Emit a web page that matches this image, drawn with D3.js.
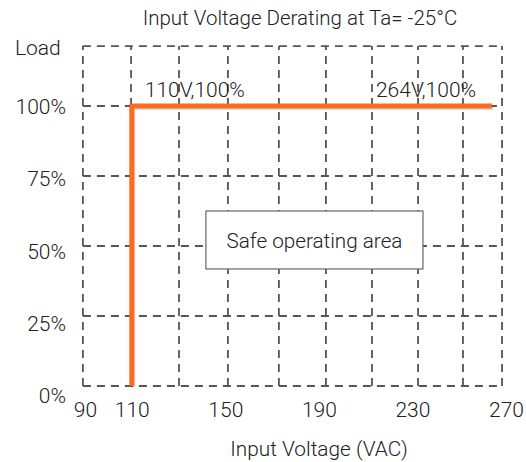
<!DOCTYPE html>
<html>
<head>
<meta charset="utf-8">
<script src="https://cdn.jsdelivr.net/npm/d3@7"></script>
<style>
  body { margin: 0; background: #fff; }
  svg { display: block; font-family: Roboto, "Open Sans", sans-serif; font-weight: 300; }
</style>
</head>
<body>
<div id="chart"></div>
<script>
// Derating curve (input voltage in VAC, load in %)
const curveVoltage = [110, 110, 264];
const curveLoad = [0, 100, 100];

// Axis ticks
const xTicks = [90, 110, 150, 190, 230, 270];
const yTicks = [0, 25, 50, 75, 100];

// Dashed grid (voltages of vertical lines, loads of horizontal lines)
const gridVoltage = [89.1, 109.7, 130.2, 151.1, 172.9, 193, 212.7, 232.4, 251.6, 268.3];
const gridLoad = [0, 25, 50, 75, 100, 121.4];

// Annotations
const pointLabels = [
    { v: 110, load: 100, text: '110V,100%' },
    { v: 264, load: 100, text: '264V,100%' }
];

const width = 526;
const height = 462;
const textColor = '#222';
const gridColor = '#555';
const lineColor = '#ff6b1c';

const svg = d3
    .select('#chart')
    .append('svg')
    .attr('width', width)
    .attr('height', height);

const x = d3.scaleLinear().domain([90, 270]).range([85, 506]);
const y = d3.scaleLinear().domain([0, 100]).range([386, 106]);
// y tick labels sit a bit lower than their grid lines in the original
const yLabel = d3.scaleLinear().domain([0, 100]).range([396, 107]);

// Grid
const grid = svg.append('g').attr('class', 'grid');
grid.selectAll('line.v')
    .data(gridVoltage)
    .join('line')
    .attr('class', 'v')
    .attr('x1', (d) => x(d))
    .attr('x2', (d) => x(d))
    .attr('y1', y(0))
    .attr('y2', y(d3.max(gridLoad)))
    .attr('stroke', gridColor)
    .attr('stroke-width', 1.8)
    .attr('stroke-dasharray', '8,6');
grid.selectAll('line.h')
    .data(gridLoad)
    .join('line')
    .attr('class', 'h')
    .attr('x1', x(d3.min(gridVoltage)))
    .attr('x2', x(d3.max(gridVoltage)))
    .attr('y1', (d) => y(d))
    .attr('y2', (d) => y(d))
    .attr('stroke', gridColor)
    .attr('stroke-width', 1.8)
    .attr('stroke-dasharray', '8,6');

// Safe operating area box
const box = svg.append('g');
box.append('rect')
    .attr('x', x(141.7))
    .attr('y', y(62.5))
    .attr('width', x(234.5) - x(141.7))
    .attr('height', y(41.8) - y(62.5))
    .attr('fill', '#fff')
    .attr('stroke', '#666')
    .attr('stroke-width', 1.2);
box.append('text')
    .attr('x', x(188.1))
    .attr('y', y(52))
    .attr('dy', '0.35em')
    .attr('text-anchor', 'middle')
    .attr('font-size', 20.7)
    .attr('fill', textColor)
    .text('Safe operating area');

// Derating curve
const curve = curveVoltage.map((v, i) => [v, curveLoad[i]]);
const line = d3.line().x((d) => x(d[0])).y((d) => y(d[1]));
svg.append('path')
    .datum(curve)
    .attr('d', line)
    .attr('fill', 'none')
    .attr('stroke', 'rgba(0,0,0,0.15)')
    .attr('stroke-width', 5)
    .attr('transform', 'translate(1,1.5)');
svg.append('path')
    .datum(curve)
    .attr('d', line)
    .attr('fill', 'none')
    .attr('stroke', lineColor)
    .attr('stroke-width', 5)
    .attr('stroke-linejoin', 'miter');

// Point labels
svg.selectAll('text.pt')
    .data(pointLabels)
    .join('text')
    .attr('class', 'pt')
    .attr('x', (d, i) => (i === 0 ? x(d.v) + 13 : x(d.v) - 116))
    .attr('y', (d) => y(d.load) - 9)
    .attr('font-size', 21)
    .attr('fill', textColor)
    .text((d) => d.text);

// X axis labels
const xAxis = d3.axisBottom(x).tickValues(xTicks).tickSize(0).tickPadding(0);
svg.append('g')
    .attr('transform', 'translate(0,402)')
    .call(xAxis)
    .attr('font-family', null)
    .attr('font-size', null)
    .call((g) => g.select('.domain').remove())
    .call((g) => g.selectAll('text')
        .attr('font-size', 21)
        .attr('fill', textColor)
        .attr('dy', '0.71em'));

// Y axis labels
const yAxis = d3.axisLeft(yLabel)
    .tickValues(yTicks)
    .tickFormat((d) => d + '%')
    .tickSize(0)
    .tickPadding(0);
svg.append('g')
    .attr('transform', 'translate(66,0)')
    .call(yAxis)
    .attr('font-family', null)
    .attr('font-size', null)
    .call((g) => g.select('.domain').remove())
    .call((g) => g.selectAll('text')
        .attr('font-size', 21)
        .attr('fill', textColor));

// Titles
svg.append('text')
    .attr('x', 15)
    .attr('y', 55)
    .attr('font-size', 21)
    .attr('fill', textColor)
    .text('Load');
svg.append('text')
    .attr('x', 300)
    .attr('y', 25)
    .attr('text-anchor', 'middle')
    .attr('font-size', 20.5)
    .attr('fill', textColor)
    .text('Input Voltage Derating at Ta= -25°C');
svg.append('text')
    .attr('x', 319)
    .attr('y', 456)
    .attr('text-anchor', 'middle')
    .attr('font-size', 20.8)
    .attr('fill', textColor)
    .text('Input Voltage (VAC)');
</script>
</body>
</html>
